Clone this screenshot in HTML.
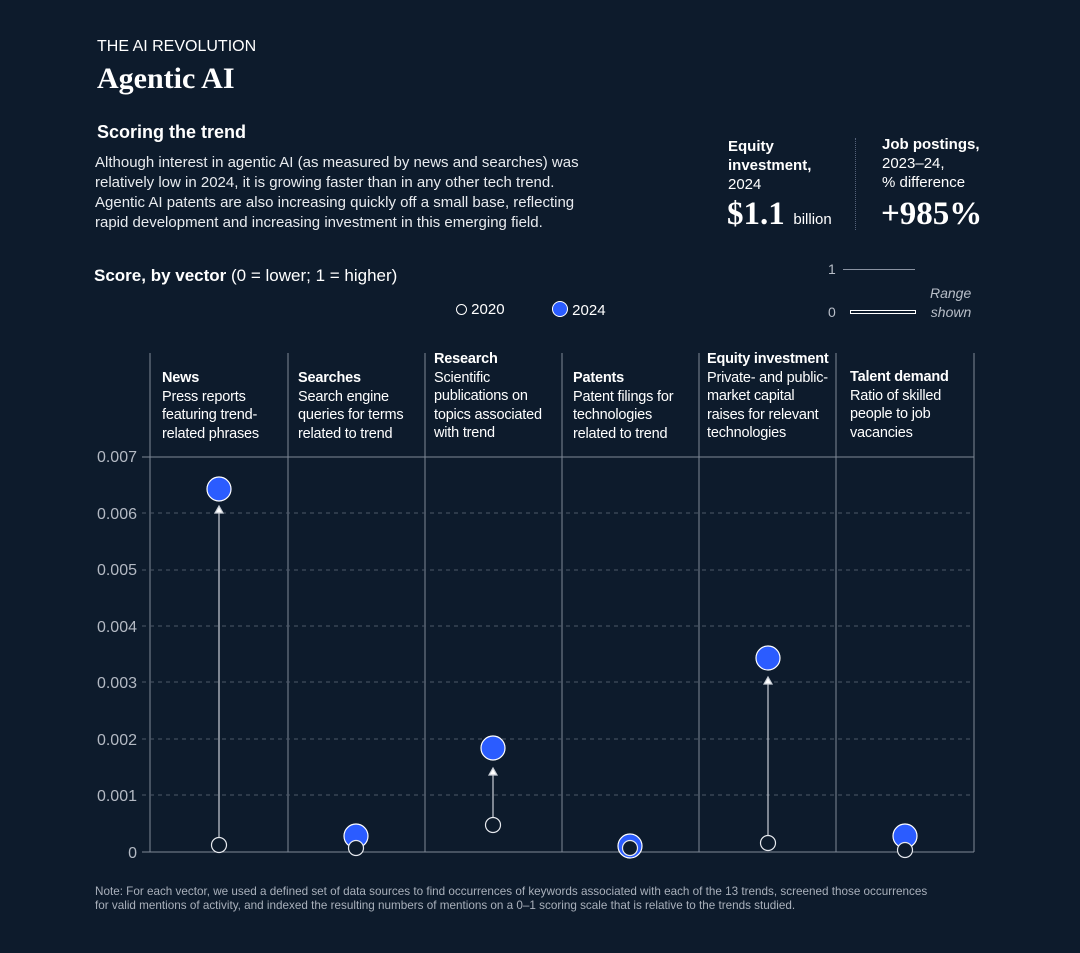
<!DOCTYPE html>
<html><head><style>
body{margin:0;background:#0d1b2c;width:1080px;height:953px;overflow:hidden;font-family:"Liberation Sans",sans-serif;color:#fff;position:relative}
.a{position:absolute;white-space:nowrap}
.s{font-family:"Liberation Serif",serif;font-weight:bold}
.h{font-size:14.5px;line-height:18.5px;letter-spacing:-0.2px}
</style></head><body>
<div class="a" style="left:97px;top:38px;font-size:16px">THE AI REVOLUTION</div>
<div class="a s" style="left:97px;top:62px;font-size:30px">Agentic AI</div>
<div class="a" style="left:97px;top:122px;font-size:18px;font-weight:bold">Scoring the trend</div>
<div class="a" style="left:95px;top:153px;font-size:15px;line-height:20px;color:#e8ebef">Although interest in agentic AI (as measured by news and searches) was<br>relatively low in 2024, it is growing faster than in any other tech trend.<br>Agentic AI patents are also increasing quickly off a small base, reflecting<br>rapid development and increasing investment in this emerging field.</div>
<div class="a" style="left:728px;top:137px;font-size:15px;line-height:19px"><b>Equity<br>investment,</b><br>2024</div>
<div class="a" style="left:727px;top:196px"><span class="s" style="font-size:33px">$1.1</span> <span style="font-size:15px">&nbsp;billion</span></div>
<div class="a" style="left:855px;top:138px;height:92px;border-left:1px dotted #55627a"></div>
<div class="a" style="left:882px;top:135px;font-size:15px;line-height:19px"><b>Job postings,</b><br>2023–24,<br>% difference</div>
<div class="a s" style="left:881px;top:196px;font-size:33px">+985%</div>
<div class="a" style="left:828px;top:261px;font-size:14px;color:#b8bec8">1</div>
<div class="a" style="left:828px;top:304px;font-size:14px;color:#b8bec8">0</div>
<div class="a" style="left:843px;top:269px;width:72px;border-top:1px solid #8a93a2"></div>
<div class="a" style="left:850px;top:310px;width:64px;height:2px;border:1px solid #fff"></div>
<div class="a" style="left:930px;top:284px;font-size:14px;font-style:italic;line-height:19px;color:#b8bec8;text-align:right">Range<br>shown</div>
<div class="a" style="left:94px;top:266px;font-size:17px"><b>Score, by vector</b> (0 = lower; 1 = higher)</div>
<div class="a" style="left:456px;top:301px;font-size:15px"><span style="display:inline-block;width:9px;height:9px;border:1.5px solid #fff;border-radius:50%;vertical-align:-1px"></span> 2020</div>
<div class="a" style="left:552px;top:301px;font-size:15px"><span style="display:inline-block;width:14px;height:14px;background:#2b5cff;border:1px solid #fff;border-radius:50%;vertical-align:-2px"></span> 2024</div>
<svg class="a" style="left:0;top:0" width="1080" height="953">
<g stroke="#7f8896" stroke-width="1">
<line x1="150" y1="353" x2="150" y2="852"/><line x1="288" y1="353" x2="288" y2="852"/><line x1="425" y1="353" x2="425" y2="852"/><line x1="562" y1="353" x2="562" y2="852"/><line x1="699" y1="353" x2="699" y2="852"/><line x1="836" y1="353" x2="836" y2="852"/><line x1="974" y1="353" x2="974" y2="852"/>
<line x1="142" y1="457" x2="974" y2="457"/><line x1="142" y1="852" x2="974" y2="852"/>
</g>
<g stroke="#4d5869" stroke-dasharray="4,4">
<line x1="142" y1="513" x2="974" y2="513"/><line x1="142" y1="570" x2="974" y2="570"/><line x1="142" y1="626" x2="974" y2="626"/><line x1="142" y1="682" x2="974" y2="682"/><line x1="142" y1="739" x2="974" y2="739"/><line x1="142" y1="795" x2="974" y2="795"/>
</g>
<g font-size="16" fill="#b3b9c3" text-anchor="end" font-family="Liberation Sans">
<text x="137" y="462">0.007</text><text x="137" y="519">0.006</text><text x="137" y="575">0.005</text><text x="137" y="632">0.004</text><text x="137" y="688">0.003</text><text x="137" y="745">0.002</text><text x="137" y="801">0.001</text><text x="137" y="858">0</text>
</g>
<g stroke="#c9ced6" stroke-width="1.2" fill="#fff">
<line x1="219" y1="838" x2="219" y2="512"/><path d="M215 513L219 506L223 513Z"/>
<line x1="493" y1="818" x2="493" y2="774"/><path d="M489 775L493 768L497 775Z"/>
<line x1="768" y1="836" x2="768" y2="683"/><path d="M764 684L768 677L772 684Z"/>
</g>
<g fill="#2b5cff" stroke="#fff" stroke-width="1.2">
<circle cx="219" cy="489" r="12"/><circle cx="356" cy="836" r="12"/><circle cx="493" cy="748" r="12"/><circle cx="630" cy="846" r="12"/><circle cx="768" cy="658" r="12"/><circle cx="905" cy="836" r="12"/>
</g>
<g fill="#0d1b2c" stroke="#e6e9ee" stroke-width="1.2">
<circle cx="219" cy="845" r="7.5"/><circle cx="356" cy="848" r="7.5"/><circle cx="493" cy="825" r="7.5"/><circle cx="630" cy="848" r="7.5"/><circle cx="768" cy="843" r="7.5"/><circle cx="905" cy="850" r="7.5"/>
</g>
</svg>
<div class="a h" style="left:162px;top:369px"><b>News</b><br>Press reports<br>featuring trend-<br>related phrases</div>
<div class="a h" style="left:298px;top:369px"><b>Searches</b><br>Search engine<br>queries for terms<br>related to trend</div>
<div class="a h" style="left:434px;top:350px"><b>Research</b><br>Scientific<br>publications on<br>topics associated<br>with trend</div>
<div class="a h" style="left:573px;top:369px"><b>Patents</b><br>Patent filings for<br>technologies<br>related to trend</div>
<div class="a h" style="left:707px;top:350px"><b>Equity investment</b><br>Private- and public-<br>market capital<br>raises for relevant<br>technologies</div>
<div class="a h" style="left:850px;top:368px"><b>Talent demand</b><br>Ratio of skilled<br>people to job<br>vacancies</div>
<div class="a" style="left:95px;top:885px;font-size:11.7px;line-height:14px;color:#a9b0bb">Note: For each vector, we used a defined set of data sources to find occurrences of keywords associated with each of the 13 trends, screened those occurrences<br>for valid mentions of activity, and indexed the resulting numbers of mentions on a 0–1 scoring scale that is relative to the trends studied.</div>
</body></html>
